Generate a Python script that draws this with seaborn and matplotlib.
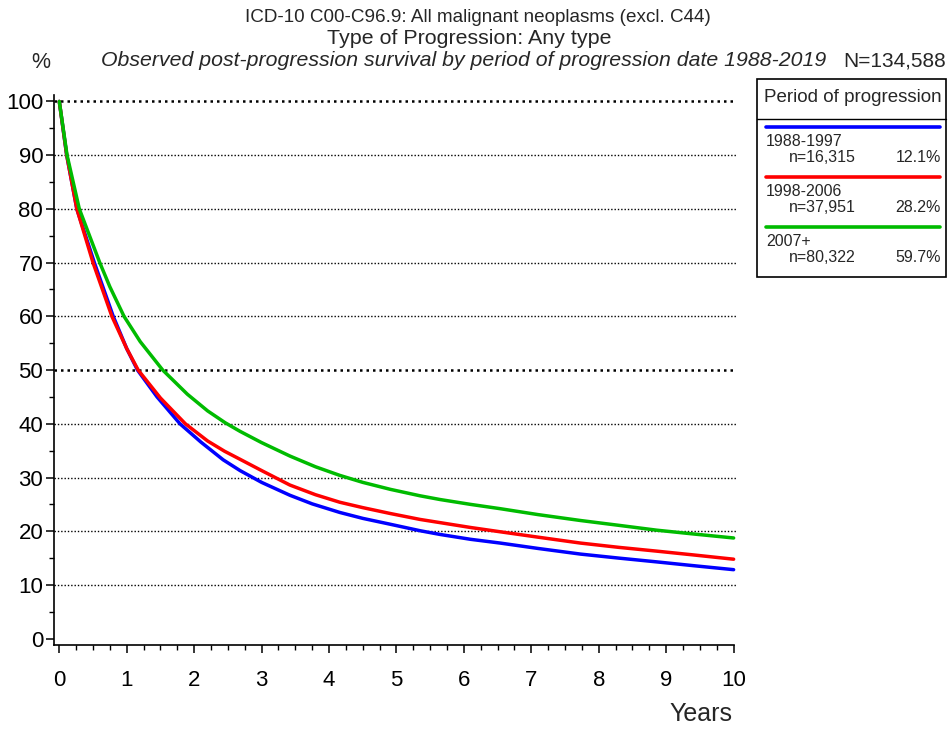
import matplotlib
matplotlib.use("Agg")
import matplotlib.pyplot as plt
from matplotlib import font_manager
from matplotlib.lines import Line2D
from matplotlib.patches import Rectangle
from matplotlib.ticker import MultipleLocator
import pandas as pd
import seaborn as sns

# Observed post-progression survival (%) by period of progression
years_1988_1997 = [0, 0.11, 0.26, 0.52, 0.80, 1.0, 1.16, 1.45, 1.79, 2.1, 2.43, 2.68,
                   3.0, 3.42, 3.75, 4.16, 4.5, 4.91, 5.35, 5.65, 6.1, 6.54, 7.1, 7.73,
                   8.3, 8.86, 9.4, 10]
surv_1988_1997 = [100, 90, 80, 70, 60, 54.0, 50, 45, 40, 36.6, 33.3, 31.3,
                  29.1, 26.7, 25.1, 23.5, 22.4, 21.3, 20.1, 19.4, 18.5, 17.8, 16.8, 15.75,
                  15.0, 14.3, 13.6, 12.85]

years_1998_2006 = [0, 0.11, 0.26, 0.50, 0.78, 1.0, 1.17, 1.5, 1.87, 2.2, 2.45, 2.68,
                   3.0, 3.42, 3.8, 4.16, 4.5, 4.91, 5.35, 5.65, 6.1, 6.54, 7.1, 7.73,
                   8.3, 8.86, 9.4, 10]
surv_1998_2006 = [100, 90, 80, 70, 60, 54.0, 50, 44.8, 40, 36.8, 34.9, 33.4,
                  31.3, 28.6, 26.8, 25.4, 24.4, 23.3, 22.2, 21.6, 20.7, 19.9, 18.9, 17.8,
                  17.0, 16.3, 15.6, 14.8]

years_2007 = [0, 0.115, 0.297, 0.60, 0.75, 0.96, 1.2, 1.534, 1.9, 2.2, 2.46, 2.68, 3.0,
              3.42, 3.8, 4.16, 4.5, 4.91, 5.35, 5.65, 6.1, 6.54, 7.1, 7.73, 8.3,
              8.86, 9.4, 10]
surv_2007 = [100, 90, 80, 70, 65.5, 60, 55.3, 50, 45.5, 42.4, 40.2, 38.6, 36.5,
             34.0, 32.0, 30.4, 29.1, 27.8, 26.6, 25.9, 25.0, 24.2, 23.1, 22.0, 21.1,
             20.2, 19.5, 18.75]

periods = ["1988-1997", "1998-2006", "2007+"]
counts = ["n=16,315", "n=37,951", "n=80,322"]
shares = ["12.1%", "28.2%", "59.7%"]
colors = ["#0000ff", "#ff0000", "#00bb00"]

df = pd.concat([
    pd.DataFrame({"Years": t, "Survival": s, "Period": p})
    for t, s, p in zip([years_1988_1997, years_1998_2006, years_2007],
                       [surv_1988_1997, surv_1998_2006, surv_2007], periods)
])

sns.set_theme(style="white")
names = {f.name for f in font_manager.fontManager.ttflist}
fam = "Liberation Sans Narrow" if "Liberation Sans Narrow" in names else "Liberation Sans"
plt.rcParams["font.family"] = [fam, "DejaVu Sans"]

W, H = 949, 729
fig = plt.figure(figsize=(W / 100, H / 100), dpi=100)
ax = fig.add_axes([54.3 / W, 84 / H, (737 - 54.3) / W, (645 - 95) / H])


def fx(x):
    return x / W


def fy(y):
    return 1 - y / H


# Reference lines
for v in range(10, 101, 10):
    heavy = v in (50, 100)
    ax.axhline(v, color="black", lw=1.8 if heavy else 1.0,
               linestyle=(0, (1, 1.6)) if heavy else (0, (1, 1.4)), zorder=1)

sns.lineplot(data=df, x="Years", y="Survival", hue="Period", palette=colors,
             hue_order=periods, linewidth=2.5, legend=False, ax=ax, zorder=3,
             estimator=None, sort=False)
for ln in ax.get_lines():
    ln.set_solid_joinstyle("round")
    ln.set_solid_capstyle("round")

ax.set_xlim(-0.074, 10.05)
ax.set_ylim(-1.17, 101.2)
ax.set_xlabel("")
ax.set_ylabel("")
sns.despine(ax=ax)
for side in ("left", "bottom"):
    ax.spines[side].set_linewidth(1.2)
    ax.spines[side].set_color("black")
ax.spines["bottom"].set_bounds(-0.074, 10.0)

ax.xaxis.set_major_locator(MultipleLocator(1))
ax.xaxis.set_minor_locator(MultipleLocator(0.25))
ax.yaxis.set_major_locator(MultipleLocator(10))
ax.yaxis.set_minor_locator(MultipleLocator(5))
ax.tick_params(which="major", direction="out", length=6, width=1.1, color="black",
               labelsize=16, labelcolor="black", bottom=True, left=True, pad=2)
ax.tick_params(which="minor", direction="out", length=3.5, width=1.0, color="black",
               bottom=True, left=True)
ax.tick_params(axis="x", which="major", pad=12)

# Titles
fig.text(fx(478), fy(17), "ICD-10 C00-C96.9: All malignant neoplasms (excl. C44)",
         ha="center", va="center", fontsize=13.6)
fig.text(fx(469), fy(38), "Type of Progression: Any type",
         ha="center", va="center", fontsize=15.4)
fig.text(fx(41), fy(62), "%", ha="center", va="center", fontsize=15.5)
fig.text(fx(826), fy(61), "Observed post-progression survival by period of progression date 1988-2019",
         ha="right", va="center", fontsize=15.3, style="italic")
fig.text(fx(946), fy(61), "N=134,588", ha="right", va="center", fontsize=15)
fig.text(fx(732), fy(714), "Years", ha="right", va="center", fontsize=18)

# Legend box
fig.add_artist(Rectangle((fx(757), fy(277)), (946 - 757) / W, (277 - 79) / H,
                         transform=fig.transFigure, fill=False, edgecolor="black", lw=1.2))
fig.add_artist(Line2D([fx(757), fx(946)], [fy(119), fy(119)],
                      transform=fig.transFigure, color="black", lw=1.0))
fig.text(fx(853), fy(97), "Period of progression", ha="center", va="center", fontsize=13.5)
for i, (p, n, s, c) in enumerate(zip(periods, counts, shares, colors)):
    y0 = 127 + 50 * i
    fig.add_artist(Line2D([fx(766), fx(940)], [fy(y0), fy(y0)],
                          transform=fig.transFigure, color=c, lw=2.6))
    fig.text(fx(766), fy(y0 + 15), p, ha="left", va="center", fontsize=11.5)
    fig.text(fx(789), fy(y0 + 30), n, ha="left", va="center", fontsize=11.5)
    fig.text(fx(941), fy(y0 + 30), s, ha="right", va="center", fontsize=11.5)

fig.savefig("out.png", dpi=100)
